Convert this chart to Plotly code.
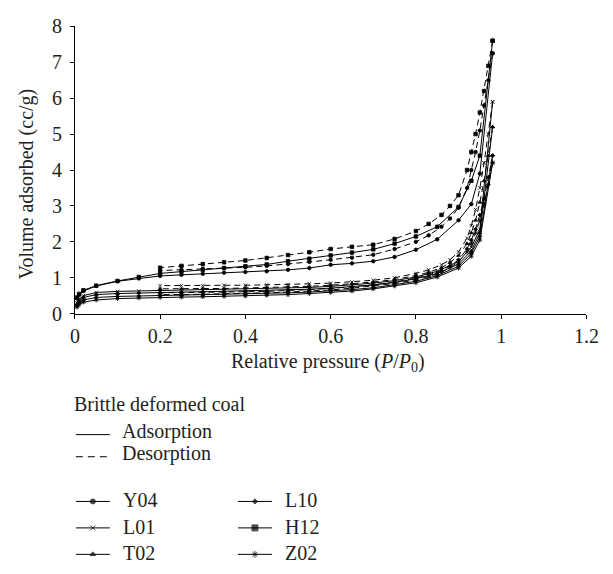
import plotly.graph_objects as go

# ---------------- data ----------------
x_ads = [0.005, 0.01, 0.02, 0.05, 0.1, 0.15, 0.2, 0.25, 0.3, 0.35, 0.4, 0.45, 0.5,
         0.55, 0.6, 0.65, 0.7, 0.75, 0.8, 0.85, 0.9, 0.93, 0.95, 0.98]
x_des = [0.98, 0.97, 0.96, 0.95, 0.94, 0.93, 0.92, 0.9, 0.88, 0.86, 0.83, 0.8, 0.75,
         0.7, 0.65, 0.6, 0.55, 0.5, 0.45, 0.4, 0.35, 0.3, 0.25, 0.2]

samples = ["Y04", "L01", "T02", "L10", "H12", "Z02"]

ads_H12 = [0.45, 0.55, 0.65, 0.78, 0.91, 1.02, 1.12, 1.17, 1.22, 1.27, 1.32, 1.37, 1.46,
           1.53, 1.62, 1.70, 1.79, 1.95, 2.15, 2.42, 2.97, 3.70, 4.40, 7.60]
des_H12 = [7.60, 6.90, 6.20, 5.60, 5.00, 4.50, 4.00, 3.30, 3.00, 2.75, 2.50, 2.30, 2.08,
           1.92, 1.86, 1.80, 1.71, 1.63, 1.55, 1.48, 1.43, 1.38, 1.33, 1.28]

ads_Y04 = [0.42, 0.52, 0.63, 0.77, 0.90, 0.98, 1.05, 1.08, 1.11, 1.14, 1.16, 1.18, 1.22,
           1.27, 1.36, 1.40, 1.46, 1.58, 1.78, 2.07, 2.60, 3.05, 3.90, 7.25]
des_Y04 = [7.25, 6.50, 5.80, 5.10, 4.50, 4.00, 3.50, 2.95, 2.65, 2.42, 2.18, 2.00, 1.80,
           1.64, 1.56, 1.50, 1.44, 1.38, 1.33, 1.29, 1.27, 1.25, 1.22, 1.20]

ads_L01 = [0.30, 0.40, 0.50, 0.59, 0.62, 0.63, 0.64, 0.65, 0.66, 0.67, 0.68, 0.69, 0.71,
           0.73, 0.76, 0.80, 0.85, 0.92, 1.02, 1.18, 1.45, 1.85, 2.35, 5.90]
des_L01 = [5.90, 5.00, 4.20, 3.50, 2.90, 2.45, 2.10, 1.72, 1.50, 1.36, 1.22, 1.12, 1.00,
           0.93, 0.88, 0.85, 0.83, 0.81, 0.80, 0.79, 0.79, 0.78, 0.78, 0.78]

ads_T02 = [0.27, 0.36, 0.45, 0.53, 0.56, 0.58, 0.59, 0.60, 0.61, 0.62, 0.63, 0.64, 0.66,
           0.68, 0.71, 0.75, 0.80, 0.87, 0.97, 1.12, 1.38, 1.75, 2.25, 5.20]
des_T02 = [5.20, 4.40, 3.70, 3.10, 2.60, 2.25, 1.95, 1.62, 1.42, 1.28, 1.15, 1.06, 0.95,
           0.88, 0.83, 0.79, 0.76, 0.74, 0.72, 0.71, 0.70, 0.70, 0.69, 0.69]

ads_L10 = [0.22, 0.30, 0.38, 0.45, 0.48, 0.49, 0.50, 0.51, 0.52, 0.53, 0.54, 0.56, 0.58,
           0.60, 0.63, 0.67, 0.72, 0.80, 0.90, 1.06, 1.32, 1.68, 2.15, 4.40]
des_L10 = [4.40, 3.80, 3.20, 2.75, 2.35, 2.05, 1.80, 1.50, 1.33, 1.20, 1.08, 0.99, 0.88,
           0.80, 0.74, 0.70, 0.67, 0.64, 0.62, 0.61, 0.60, 0.59, 0.58, 0.58]

ads_Z02 = [0.18, 0.25, 0.32, 0.38, 0.42, 0.44, 0.45, 0.46, 0.47, 0.48, 0.49, 0.51, 0.53,
           0.56, 0.59, 0.63, 0.69, 0.77, 0.86, 1.02, 1.27, 1.60, 2.05, 4.20]
des_Z02 = [4.20, 3.60, 3.05, 2.60, 2.25, 1.95, 1.72, 1.44, 1.28, 1.15, 1.03, 0.94, 0.84,
           0.77, 0.71, 0.66, 0.62, 0.60, 0.58, 0.56, 0.55, 0.54, 0.53, 0.53]

ads_vals = {"Y04": ads_Y04, "L01": ads_L01, "T02": ads_T02,
            "L10": ads_L10, "H12": ads_H12, "Z02": ads_Z02}
des_vals = {"Y04": des_Y04, "L01": des_L01, "T02": des_T02,
            "L10": des_L10, "H12": des_H12, "Z02": des_Z02}

x_ticks = [0, 0.2, 0.4, 0.6, 0.8, 1, 1.2]
x_tick_text = ["0", "0.2", "0.4", "0.6", "0.8", "1", "1.2"]
y_ticks = [0, 1, 2, 3, 4, 5, 6, 7, 8]

# ---------------- style ----------------
W, H = 613, 574
FONT = "Liberation Serif"
FS = 20
TXT = "#231f20"
symbols = {"Y04": ("circle", 3.5), "L01": ("x-thin-open", 3.5), "T02": ("triangle-up", 3.5),
           "L10": ("diamond", 3), "H12": ("square", 3.5), "Z02": ("asterisk-open", 4)}
leg_size = {"Y04": 5, "L01": 5, "T02": 5, "L10": 4, "H12": 6, "Z02": 6}
DASH = "6px,4px"

fig = go.Figure()

for s in samples:
    sym, sz = symbols[s]
    mk = dict(symbol=sym, size=sz, color="black", line=dict(color="black", width=0.8))
    fig.add_trace(go.Scatter(x=x_ads, y=ads_vals[s], mode="lines+markers",
                             line=dict(color="black", width=1), marker=mk,
                             showlegend=False, name=s + " adsorption"))
    fig.add_trace(go.Scatter(x=x_des, y=des_vals[s], mode="lines+markers",
                             line=dict(color="black", width=1, dash=DASH), marker=mk,
                             showlegend=False, name=s + " desorption"))

# ---------------- legend (manual, pixel overlay axes) ----------------
leg_rows = [("Y04", 0, 510), ("L01", 0, 537.5), ("T02", 0, 565),
            ("L10", 1, 510), ("H12", 1, 537.5), ("Z02", 1, 565)]
col_x = [73, 240]
line_len = 35
lx, ly, lsym, lsz = [], [], [], []
shapes = []
annotations = []
for s, c, yy in leg_rows:
    x0 = col_x[c]
    shapes.append(dict(type="line", xref="x2", yref="y2", x0=x0, x1=x0 + line_len,
                       y0=yy, y1=yy, line=dict(color="black", width=1)))
    lx.append(x0 + line_len / 2)
    ly.append(yy)
    lsym.append(symbols[s][0])
    lsz.append(leg_size[s])
    annotations.append(dict(xref="x2", yref="y2", x=x0 + 46, y=yy - 1, text=s,
                            showarrow=False, xanchor="left", yanchor="middle",
                            font=dict(family=FONT, size=FS, color=TXT)))

fig.add_trace(go.Scatter(x=lx, y=ly, mode="markers", xaxis="x2", yaxis="y2",
                         marker=dict(symbol=lsym, size=lsz, color="black",
                                     line=dict(color="black", width=1)),
                         showlegend=False, hoverinfo="skip"))

shapes.append(dict(type="line", xref="x2", yref="y2", x0=73, x1=108, y0=440.5, y1=440.5,
                   line=dict(color="black", width=1)))
shapes.append(dict(type="line", xref="x2", yref="y2", x0=73, x1=108, y0=463.5, y1=463.5,
                   line=dict(color="black", width=1, dash="7px,5px")))
annotations += [
    dict(xref="x2", yref="y2", x=69, y=409, text="Brittle deformed coal", showarrow=False,
         xanchor="left", yanchor="middle", font=dict(family=FONT, size=FS, color=TXT)),
    dict(xref="x2", yref="y2", x=118, y=437, text="Adsorption", showarrow=False,
         xanchor="left", yanchor="middle", font=dict(family=FONT, size=FS, color=TXT)),
    dict(xref="x2", yref="y2", x=118, y=460, text="Desorption", showarrow=False,
         xanchor="left", yanchor="middle", font=dict(family=FONT, size=FS, color=TXT)),
    # axis titles
    dict(xref="x2", yref="y2", x=333, y=366, text="Relative pressure (<i>P</i>/<i>P</i><sub>0</sub>)",
         showarrow=False, xanchor="center", yanchor="middle",
         font=dict(family=FONT, size=FS, color=TXT)),
    dict(xref="x2", yref="y2", x=22, y=180, text="Volume adsorbed (cc/g)", textangle=-90,
         showarrow=False, xanchor="center", yanchor="middle",
         font=dict(family=FONT, size=FS, color=TXT)),
]

fig.update_layout(
    width=W, height=H, autosize=False,
    margin=dict(l=0, r=0, t=0, b=0),
    paper_bgcolor="white", plot_bgcolor="rgba(0,0,0,0)",
    font=dict(family=FONT, size=FS, color=TXT),
    showlegend=False,
    xaxis=dict(domain=[72 / W, 599 / W], range=[0, 1.2], tickvals=x_ticks,
               ticktext=x_tick_text, showgrid=False, zeroline=False,
               showline=True, linecolor="black", linewidth=1,
               ticks="outside", ticklen=4, tickcolor="black", tickwidth=1,
               anchor="y", tickfont=dict(family=FONT, size=FS, color=TXT)),
    yaxis=dict(domain=[(H - 314.7) / H, (H - 16) / H], range=[0, 8], tickvals=y_ticks,
               showgrid=False, zeroline=False,
               showline=True, linecolor="black", linewidth=1,
               ticks="outside", ticklen=4, tickcolor="black", tickwidth=1,
               ticklabelstandoff=4,
               anchor="x", tickfont=dict(family=FONT, size=FS, color=TXT)),
    xaxis2=dict(domain=[0, 1], range=[0, W], visible=False, anchor="y2"),
    yaxis2=dict(domain=[0, 1], range=[H, 0], visible=False, anchor="x2"),
    shapes=shapes,
    annotations=annotations,
)

fig.write_html("out.html")
